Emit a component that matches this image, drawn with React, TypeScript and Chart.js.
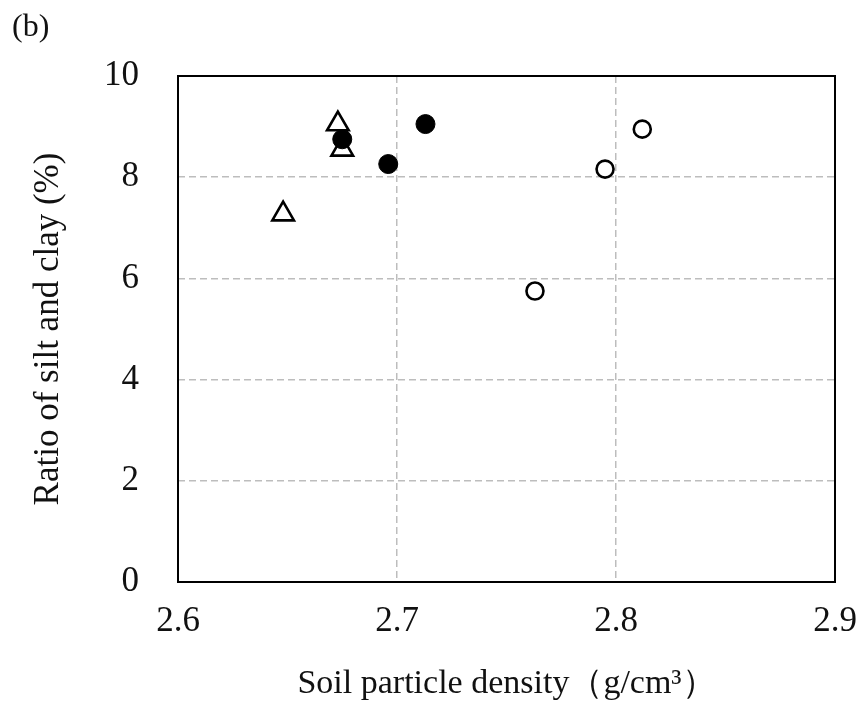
import React, { useEffect, useRef } from "react";
import { Chart, registerables } from "chart.js";

Chart.register(...registerables);

// Data
const triangleX = [2.648, 2.673, 2.675];
const triangleY = [7.27, 9.05, 8.55];
const filledX = [2.675, 2.696, 2.713];
const filledY = [8.75, 8.26, 9.05];
const openX = [2.763, 2.795, 2.812];
const openY = [5.75, 8.16, 8.95];

const xTicks = [2.6, 2.7, 2.8, 2.9];
const yTicks = [0, 2, 4, 6, 8, 10];

const panelLabel = "(b)";
const xTitle = "Soil particle density（g/cm³）";
const yTitle = "Ratio of silt and clay (%)";

const FONT = '"Times New Roman", "Liberation Serif", "DejaVu Serif", serif';

const toPoints = (xs: number[], ys: number[]) => xs.map((x, i) => ({ x, y: ys[i] }));

const framePlugin = {
  id: "frame",
  afterDatasetsDraw(chart: any) {
    const { ctx, chartArea } = chart;
    ctx.save();
    ctx.strokeStyle = "#000";
    ctx.lineWidth = 2;
    ctx.strokeRect(chartArea.left, chartArea.top, chartArea.right - chartArea.left, chartArea.bottom - chartArea.top);
    ctx.restore();
  },
  afterDraw(chart: any) {
    const { ctx } = chart;
    ctx.save();
    ctx.fillStyle = "#111";
    ctx.font = `32px ${FONT}`;
    ctx.textBaseline = "alphabetic";
    ctx.textAlign = "left";
    ctx.fillText(panelLabel, 12, 36);
    ctx.restore();
  },
};

export default function App() {
  const ref = useRef<HTMLCanvasElement>(null);

  useEffect(() => {
    document.body.style.margin = "0";
    const canvas = ref.current!;
    const chart = new Chart(canvas, {
      type: "scatter",
      data: {
        datasets: [
          {
            label: "filled",
            data: toPoints(filledX, filledY),
            pointStyle: "circle",
            pointRadius: 9.5,
            backgroundColor: "#000",
            borderColor: "#000",
            borderWidth: 1,
            order: 0,
          },
          {
            label: "triangle",
            data: toPoints(triangleX, triangleY),
            pointStyle: "triangle",
            pointRadius: 12.5,
            backgroundColor: "#fff",
            borderColor: "#000",
            borderWidth: 2.6,
            order: 1,
          },
          {
            label: "open",
            data: toPoints(openX, openY),
            pointStyle: "circle",
            pointRadius: 8.5,
            backgroundColor: "#fff",
            borderColor: "#000",
            borderWidth: 2.6,
            order: 2,
          },
        ],
      },
      options: {
        animation: false,
        responsive: false,
        events: [],
        layout: { padding: { top: 76, right: 22, left: 0, bottom: 0 } },
        plugins: { legend: { display: false }, tooltip: { enabled: false } },
        scales: {
          x: {
            type: "linear",
            min: 2.6,
            max: 2.9,
            afterBuildTicks: (axis: any) => {
              axis.ticks = xTicks.map((v) => ({ value: v }));
            },
            afterFit: (axis: any) => {
              axis.height = 124;
              axis.paddingLeft = 0;
              axis.paddingRight = 0;
            },
            grid: {
              color: "#bdbdbd",
              lineWidth: 1.5,
              drawTicks: false,
            },
            border: { display: false, dash: [7, 4] },
            ticks: {
              padding: 19,
              color: "#111",
              font: { family: FONT, size: 35 },
              callback: (v: any) => Number(v).toFixed(1),
            },
            title: {
              display: true,
              text: xTitle,
              color: "#111",
              font: { family: FONT, size: 34 },
              padding: { top: 0, bottom: 2 },
            },
          },
          y: {
            type: "linear",
            min: 0,
            max: 10,
            afterBuildTicks: (axis: any) => {
              axis.ticks = yTicks.map((v) => ({ value: v }));
            },
            afterFit: (axis: any) => {
              axis.width = 178;
              axis.paddingTop = 0;
              axis.paddingBottom = 0;
            },
            grid: {
              color: "#bdbdbd",
              lineWidth: 1.5,
              drawTicks: false,
            },
            border: { display: false, dash: [7, 4] },
            ticks: {
              padding: 39,
              color: "#111",
              font: { family: FONT, size: 35 },
            },
            title: {
              display: true,
              text: yTitle,
              color: "#111",
              font: { family: FONT, size: 35 },
              padding: { top: 28, bottom: 0 },
            },
          },
        },
      },
      plugins: [framePlugin],
    });
    return () => chart.destroy();
  }, []);

  return <canvas ref={ref} width={857} height={706} style={{ display: "block" }} />;
}
